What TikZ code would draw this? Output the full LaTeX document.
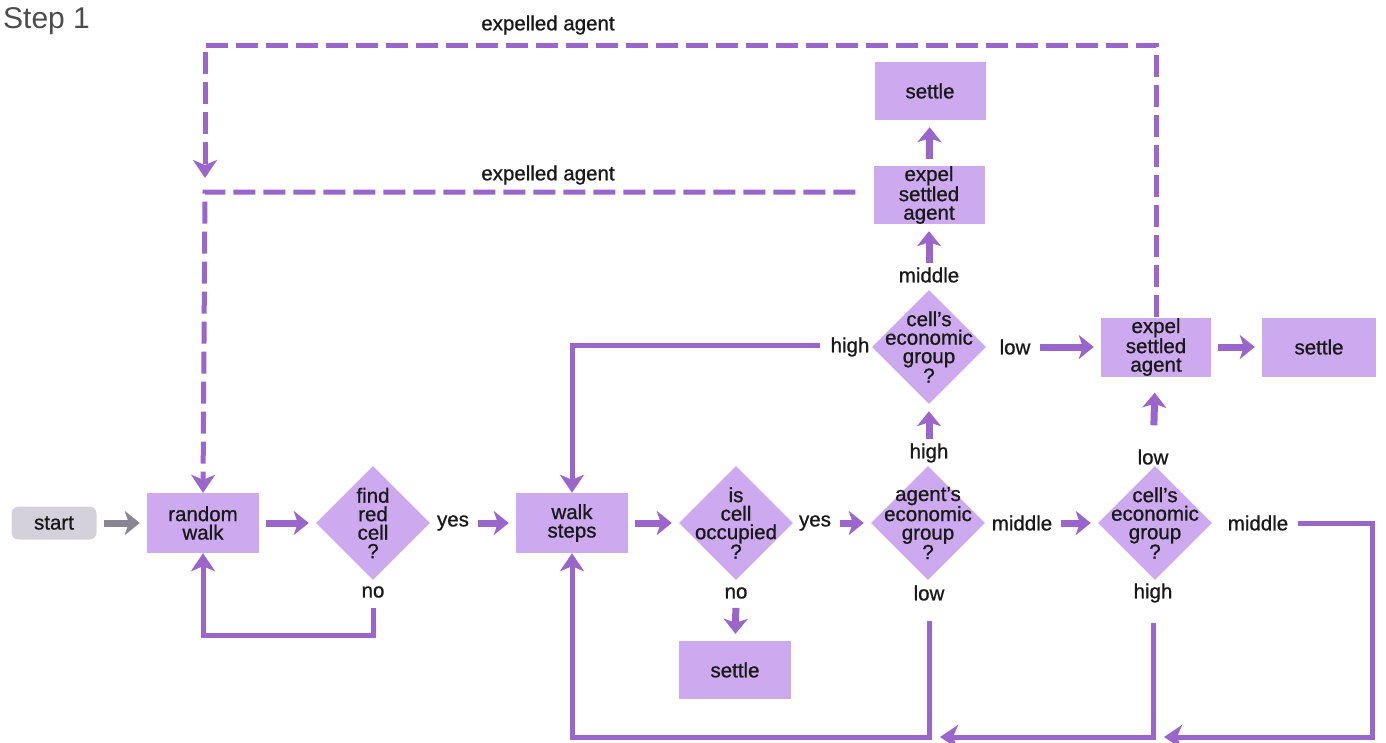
\documentclass[tikz,border=0pt]{standalone}
\usepackage{fontspec}
\setmainfont{Liberation Sans}
\newfontfamily\labelfont[FakeBold=0.9]{Liberation Sans}
\usetikzlibrary{shapes.geometric,arrows.meta}

\definecolor{boxfill}{HTML}{CDAAEF}
\definecolor{flowline}{HTML}{9A66CC}
\definecolor{startfill}{HTML}{D5D1DB}
\definecolor{startarrow}{HTML}{8A8592}

\tikzset{
  txt/.style={font=\labelfont\fontsize{20.5}{18.5}\selectfont, text=black!90},
  box/.style={txt, rectangle, fill=boxfill, minimum width=112pt, minimum height=60pt, align=center, inner sep=0pt},
  dec/.style={diamond, fill=boxfill, minimum width=114pt, minimum height=114pt, inner sep=0pt},
  dectext/.style={txt, align=center},
  lbl/.style={txt, inner sep=2pt},
  stub/.style={line width=7pt, draw=flowline, -{Stealth[length=15pt,width=24pt,inset=4pt]}, shorten <=7pt, shorten >=7pt},
  wire/.style={line width=5pt, draw=flowline},
  wirearrow/.style={wire, -{Stealth[length=18pt,width=24pt,inset=5pt]}},
  expel/.style={wire, dash pattern=on 22pt off 8pt},
}

\begin{document}
\begin{tikzpicture}[x=1pt, y=-1pt]
    \useasboundingbox (0,0) rectangle (1386,742);

    \node[anchor=north west, inner sep=0pt, font=\fontsize{30}{30}\selectfont, text=black!70] (steplbl) at (3,7) {Step 1};

    % Main row
    \node[txt, rectangle, rounded corners=7pt, fill=startfill, minimum width=85pt, minimum height=33pt] (start) at (54,523) {start};
    \node[box] (rwalk) at (203,523) {random\\walk};
    \node[dec, label={[dectext]center:find\\red\\cell\\?}] (findred) at (373,523) {};
    \node[lbl] (findyes) at (453,523) {yes};
    \node[lbl] (findno) at (373,592) {no};
    \node[box] (wsteps) at (572,523) {walk\\steps};
    \node[dec, label={[dectext]center:is\\cell\\occupied\\?}] (occup) at (736,523) {};
    \node[lbl] (occyes) at (815,523) {yes};
    \node[lbl] (occno) at (736,593) {no};
    \node[box, minimum height=58pt] (settleA) at (735,670) {settle};
    \node[dec, label={[dectext]center:agent’s\\economic\\group\\?}] (agentgrp) at (928,523) {};
    \node[lbl] (agthigh) at (929,453) {high};
    \node[lbl] (agtlow) at (929,593) {low};
    \node[lbl] (agtmid) at (1022,523) {middle};
    \node[dec, label={[dectext]center:cell’s\\economic\\group\\?}] (cellgrpB) at (1155,523) {};
    \node[lbl] (cellBlow) at (1153,457) {low};
    \node[lbl] (cellBhigh) at (1153,593) {high};
    \node[lbl] (cellBmid) at (1258,523) {middle};

    % Upper part
    \node[dec, label={[dectext]center:cell’s\\economic\\group\\?}] (cellgrpA) at (929,347) {};
    \node[lbl] (cellAhigh) at (850,347) {high};
    \node[lbl] (cellAlow) at (1015,347) {low};
    \node[lbl] (cellAmid) at (929,275) {middle};
    \node[box, minimum height=58pt, minimum width=111pt] (expelA) at (929,195) {expel\\settled\\agent};
    \node[box, minimum height=58pt, minimum width=111pt] (settleB) at (930,91) {settle};
    \node[box, minimum height=59pt, minimum width=110pt] (expelB) at (1156,347) {expel\\settled\\agent};
    \node[box, minimum height=59pt, minimum width=114pt] (settleC) at (1319,347) {settle};

    \node[lbl] (expeltop) at (548,25) {expelled agent};
    \node[lbl] (expelmid) at (548,175) {expelled agent};

    % Short arrows
    \draw[stub, draw=startarrow] (start) -- (rwalk);
    \draw[stub] (rwalk) -- (findred);
    \draw[stub] (findyes) -- (wsteps);
    \draw[stub] (wsteps) -- (occup);
    \draw[stub] (occyes) -- (agentgrp);
    \draw[stub] (occno) -- (settleA);
    \draw[stub] (agtmid) -- (cellgrpB);
    \draw[stub, shorten <=2pt] (agthigh) -- (cellgrpA);
    \draw[stub, shorten <=22pt, shorten >=16pt] (cellBlow) -- (expelB);
    \draw[stub] (expelB) -- (settleC);
    \draw[stub] (cellAlow) -- (expelB);
    \draw[stub, shorten <=2pt] (cellAmid) -- (expelA);
    \draw[stub] (expelA) -- (settleB);

    % Loops
    \draw[wirearrow] (findno.south) ++(0,8) |- (203,635) -- (rwalk.south);
    \draw[wirearrow] (cellAhigh.west) ++(-8,-2) -| (wsteps.north);
    \draw[wirearrow] (agtlow.south) ++(0,18) |- (572,737) -- (wsteps.south);
    \coordinate (backA) at (940,737);
    \coordinate (backB) at (1164,737);
    \draw[wirearrow] (cellBhigh.south) ++(0,18) |- (backA);
    \draw[wirearrow] (cellBmid.east) ++(8,0) -| (1372,737) -- (backB);

    % Expelled agents
    \coordinate (dropmid) at (205,178);
    \draw[expel, -{Stealth[length=18pt,width=24pt,inset=5pt]}] (expelB.north) |- (205,45) -- (dropmid);
    \draw[expel, -{Stealth[length=18pt,width=24pt,inset=5pt]}] (expelA.west) ++(-18,-3) -- (205,192) -- (rwalk.north);
\end{tikzpicture}
\end{document}
